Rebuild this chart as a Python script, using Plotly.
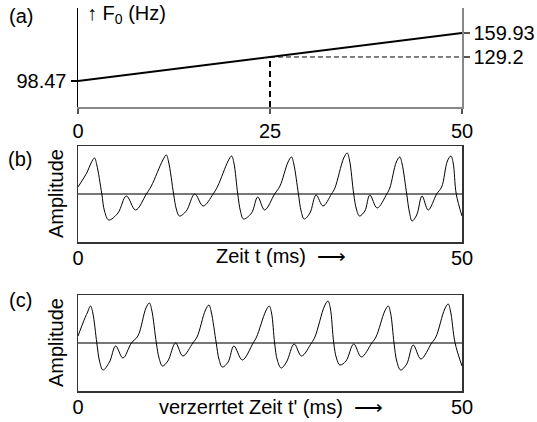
import plotly.graph_objects as go

# ---------------- data ----------------
F0_t = [0, 25, 50]                       # ms
F0_hz = [98.47, 129.2, 159.93]           # Hz
F0_left_ticks = [98.47]
F0_left_labels = ["98.47"]
F0_right_ticks = [129.2, 159.93]
F0_right_labels = ["129.2", "159.93"]
time_ticks_a = [0, 25, 50]
time_ticks_bc = [0, 50]

# (b) speech signal, key points (time ms, amplitude a.u.)
t_b = [0, 1.2, 1.7, 2.15, 2.45, 3.1, 3.45, 4.0, 5.2, 6.3, 7.5, 8.9, 9.55,
       11.05, 11.5, 11.8, 12.45, 12.8, 13.2, 14.1, 15.2, 16.3, 17.6, 18.2,
       19.55, 20.0, 20.3, 20.8, 21.15, 21.55, 22.6, 23.4, 24.3, 25.6, 26.3,
       27.35, 27.8, 28.1, 28.7, 29.05, 29.45, 30.2, 31.0, 31.9, 33.0, 33.45,
       34.6, 35.05, 35.35, 35.9, 36.25, 36.65, 37.35, 38.0, 38.95, 40.2, 40.6,
       41.45, 41.9, 42.2, 42.8, 43.15, 43.5, 44.1, 44.8, 45.6, 46.7, 47.35,
       48.1, 48.55, 48.85, 49.25, 50]
amp_b = [7, 22, 31, 36, 29, 0, -17, -26, -19, -2, -16, 0, 8,
         34, 39, 32, 0, -15, -22, -17, 0, -12, 0, 8,
         33, 38, 31, 0, -17, -25, -19, -3, -16, 0, 8,
         32, 37, 30, 0, -17, -25, -19, -1, -12, 0, 6,
         36, 41, 34, 0, -15, -22, -17, -1, -14, 0, 6,
         32, 37, 30, 0, -18, -27, -21, -2, -16, 0, 7,
         33, 38, 31, 0, -22]

# (c) time-warped signal
t_c = [0, 0.85, 1.2, 1.63, 1.93, 2.45, 2.8, 3.25, 4.1, 4.9, 5.85, 6.95, 7.8,
       8.85, 9.3, 9.6, 10.2, 10.55, 11.0, 11.7, 12.7, 13.65, 14.95, 15.5,
       16.6, 17.05, 17.35, 18.0, 18.35, 18.8, 19.55, 20.3, 21.4, 22.8, 23.25,
       24.45, 24.9, 25.2, 25.6, 25.95, 26.45, 27.15, 28.15, 29.1, 30.4, 30.85,
       32.1, 32.55, 32.85, 33.3, 33.65, 34.1, 34.9, 35.9, 36.9, 38.25, 38.8,
       39.95, 40.4, 40.7, 41.15, 41.5, 42.0, 42.8, 43.65, 44.65, 46.05, 46.6,
       47.75, 48.2, 48.5, 49.1, 50]
amp_c = [7, 24, 30, 37, 30, 0, -18, -27, -19, -3, -15, 0, 7,
         35, 40, 33, 0, -15, -23, -18, 0, -13, 0, 6,
         33, 38, 31, 0, -16, -24, -19, -3, -17, 0, 6,
         32, 37, 30, 0, -17, -25, -19, -1, -13, 0, 6,
         37, 42, 35, 0, -15, -22, -18, -1, -14, 0, 6,
         32, 37, 30, 0, -18, -27, -21, -2, -16, 0, 6,
         34, 39, 32, 0, -23]

# ---------------- layout helpers ----------------
W, H = 537, 422
def px(x):
    return x / W
def py(y):
    return 1 - y / H

FONT = "Liberation Sans, Arial, sans-serif"
FS = 20
X0, X1 = 78, 462
YA_RANGE = [65.2, 191.9]
AMP_RANGE = [-48, 48]

fig = go.Figure()

# (a) F0 contour
fig.add_trace(go.Scatter(x=F0_t, y=F0_hz, mode="lines",
                         line=dict(color="black", width=2),
                         xaxis="x", yaxis="y", hoverinfo="skip"))
fig.add_trace(go.Scatter(x=[F0_t[1], F0_t[1]], y=[YA_RANGE[0], F0_hz[1]], mode="lines",
                         line=dict(color="black", width=2, dash="6px,4px"),
                         xaxis="x", yaxis="y", hoverinfo="skip"))
fig.add_trace(go.Scatter(x=[F0_t[1], F0_t[2]], y=[F0_hz[1], F0_hz[1]], mode="lines",
                         line=dict(color="black", width=1, dash="5px,3px"),
                         xaxis="x", yaxis="y2", hoverinfo="skip"))

# (b) and (c) waveforms
fig.add_trace(go.Scatter(x=t_b, y=amp_b, mode="lines",
                         line=dict(color="black", width=1, shape="spline", smoothing=1.0),
                         xaxis="x2", yaxis="y3", hoverinfo="skip"))
fig.add_trace(go.Scatter(x=t_c, y=amp_c, mode="lines",
                         line=dict(color="black", width=1, shape="spline", smoothing=1.0),
                         xaxis="x3", yaxis="y4", hoverinfo="skip"))

tickfont = dict(family=FONT, size=FS, color="black")

box_common = dict(showline=True, mirror=True, linecolor="#333", linewidth=1.5,
                  showgrid=False, fixedrange=True, automargin=False)

fig.update_layout(
    width=W, height=H,
    margin=dict(l=0, r=0, t=0, b=0, pad=0, autoexpand=False),
    paper_bgcolor="white", plot_bgcolor="white",
    showlegend=False,
    font=dict(family=FONT, size=FS, color="black"),
    xaxis=dict(domain=[px(X0), px(X1)], range=[0, 50], anchor="y", automargin=False,
               showline=True, linecolor="#888", linewidth=1.5,
               ticks="outside", ticklen=5, tickcolor="#555", tickwidth=1.5,
               tickvals=time_ticks_a, tickfont=tickfont, ticklabelstandoff=0,
               showgrid=False, zeroline=False, fixedrange=True),
    yaxis=dict(domain=[py(107), py(8)], range=YA_RANGE, anchor="x", automargin=False,
               showline=True, linecolor="black", linewidth=1.5,
               ticks="outside", ticklen=6, tickcolor="black", tickwidth=1.5,
               tickvals=F0_left_ticks, ticktext=F0_left_labels, tickfont=tickfont,
               ticklabelstandoff=0,
               showgrid=False, zeroline=False, fixedrange=True),
    yaxis2=dict(domain=[py(107), py(8)], range=YA_RANGE, anchor="x", overlaying="y",
                side="right", automargin=False,
                showline=True, linecolor="#888", linewidth=1.5,
                ticks="outside", ticklen=6, tickcolor="#555", tickwidth=1.5,
                tickvals=F0_right_ticks, ticktext=F0_right_labels, tickfont=tickfont,
                ticklabelstandoff=0,
                showgrid=False, zeroline=False, fixedrange=True),
    xaxis2=dict(domain=[px(X0), px(X1)], range=[0, 50], anchor="y3",
                tickvals=time_ticks_bc, ticks="", tickfont=tickfont, ticklabelstandoff=-3,
                zeroline=False, **box_common),
    yaxis3=dict(domain=[py(242), py(146)], range=AMP_RANGE, anchor="x2",
                showticklabels=False, ticks="", zeroline=True,
                zerolinecolor="#777", zerolinewidth=1.5, **box_common),
    xaxis3=dict(domain=[px(X0), px(X1)], range=[0, 50], anchor="y4",
                tickvals=time_ticks_bc, ticks="", tickfont=tickfont, ticklabelstandoff=-3,
                zeroline=False, **box_common),
    yaxis4=dict(domain=[py(391), py(295)], range=AMP_RANGE, anchor="x3",
                showticklabels=False, ticks="", zeroline=True,
                zerolinecolor="#777", zerolinewidth=1.5, **box_common),
)

def label(text, x, y, xanchor="center", angle=0):
    fig.add_annotation(text=text, x=px(x), y=py(y), xref="paper", yref="paper",
                       xanchor=xanchor, yanchor="middle", showarrow=False,
                       textangle=angle, font=dict(family=FONT, size=FS, color="black"))

label("(a)", 21, 16)
label("↑ F<sub>0</sub> (Hz)", 85, 15, xanchor="left")
label("(b)", 20, 159)
label("(c)", 20, 300)
label("Amplitude", 56, 194, angle=-90)
label("Amplitude", 56, 343, angle=-90)
label("Zeit t (ms)  ⟶", 281, 256)
label("verzerrtet Zeit t' (ms)  ⟶", 271, 407)

fig.write_html("out.html",
               config={"displayModeBar": False, "staticPlot": True},
               post_script="document.body.style.margin='0';document.body.style.padding='0';")
